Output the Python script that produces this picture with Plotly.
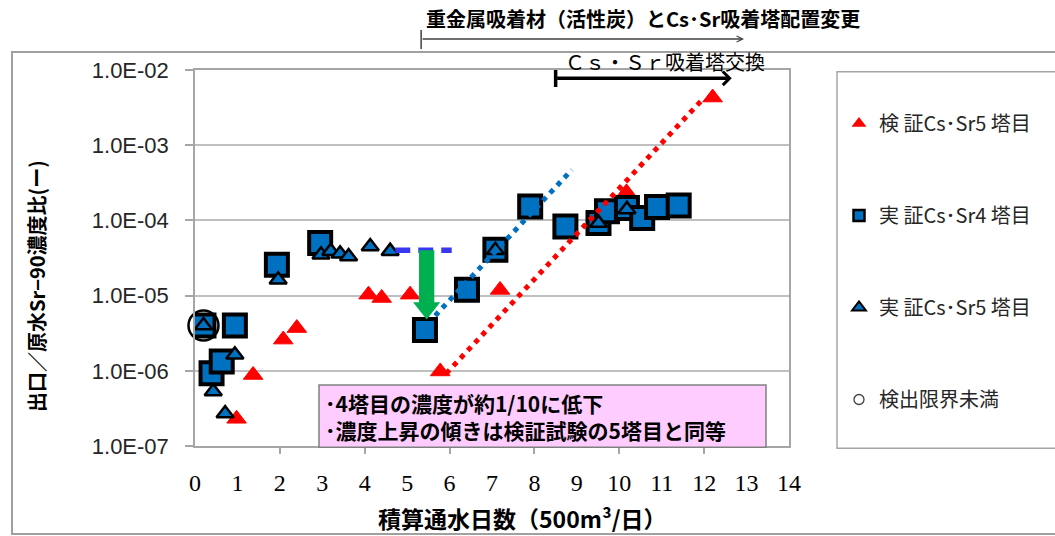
import math
import plotly.graph_objects as go

# ---------------- data ----------------
# 検証Cs・Sr 5塔目
days_ver5 = [0.98, 1.37, 2.08, 2.40, 4.09, 4.40, 5.07, 5.78, 7.19, 10.17, 12.2]
ratio_ver5 = [2.3e-7, 8.8e-7, 2.6e-6, 3.7e-6, 1.03e-5, 9.3e-6, 1.03e-5, 9.8e-7, 1.19e-5, 2.36e-4, 4.3e-3]

# 実証Cs・Sr 4塔目
days_dem4 = [0.20, 0.39, 0.63, 0.94, 1.93, 2.95, 5.42, 6.41, 7.08, 7.90, 8.73,
             9.51, 9.71, 10.18, 10.54, 10.89, 11.40]
ratio_dem4 = [4.0e-6, 9.3e-7, 1.33e-6, 4.0e-6, 2.57e-5, 5.0e-5, 3.5e-6, 1.2e-5, 4.07e-5, 1.53e-4, 8.3e-5,
              9.2e-5, 1.32e-4, 1.46e-4, 1.08e-4, 1.51e-4, 1.58e-4]

# 実証Cs・Sr 5塔目
days_dem5 = [0.20, 0.43, 0.71, 0.94, 1.96, 2.97, 3.20, 3.42, 3.62, 4.13, 4.60, 7.08, 9.51, 10.18]
ratio_dem5 = [4.0e-6, 5.3e-7, 2.7e-7, 1.63e-6, 1.62e-5, 3.5e-5, 3.9e-5, 3.6e-5, 3.3e-5, 4.5e-5, 3.9e-5,
              4.0e-5, 9.2e-5, 1.4e-4]

# 検出限界未満
days_nd = [0.20]
ratio_nd = [4.0e-6]

# trend of the rise after the change (4塔目) and of the verification test (5塔目)
trend_dem4_days = [5.66, 8.88]
trend_dem4_ratio = [5.4e-6, 4.7e-4]
trend_ver5_days = [5.92, 11.95]
trend_ver5_ratio = [9.2e-7, 4.0e-3]

# level before the change and the drop to about 1/10
before_days = [4.72, 6.05]
before_level = 4.0e-5
drop_day = 5.46
drop_to = 4.8e-6

# period markers above the plot (days)
period_change = [5.33, 12.94]
period_exchange = [8.50, 12.65]

x_ticks = list(range(0, 15))
y_ticks = [1e-7, 1e-6, 1e-5, 1e-4, 1e-3, 1e-2]
y_ticktext = ["1.0E-07", "1.0E-06", "1.0E-05", "1.0E-04", "1.0E-03", "1.0E-02"]

# ---------------- layout geometry ----------------
W, H = 1055, 536
M_L, M_R, M_T, M_B = 195, 266, 70, 90
PLOT_W = W - M_L - M_R
PLOT_H = H - M_T - M_B


def px(p):
    return (p - M_L) / PLOT_W


def py(p):
    return (H - M_B - p) / PLOT_H


JP = "Noto Sans CJK JP"
BLUE = "#0070C0"
RED = "#FF0000"

fig = go.Figure()

fig.add_trace(go.Scatter(
    x=days_ver5, y=ratio_ver5, mode="markers", showlegend=False,
    marker=dict(symbol="triangle-up", size=17, color=RED, line=dict(width=1, color=RED))))
fig.add_trace(go.Scatter(
    x=days_dem4, y=ratio_dem4, mode="markers", showlegend=False,
    marker=dict(symbol="square", size=22, color=BLUE, line=dict(width=4, color="black"))))
fig.add_trace(go.Scatter(
    x=days_dem5, y=ratio_dem5, mode="markers", showlegend=False,
    marker=dict(symbol="triangle-up", size=15, color=BLUE, line=dict(width=2.5, color="black"))))
fig.add_trace(go.Scatter(
    x=days_nd, y=ratio_nd, mode="markers", showlegend=False, cliponaxis=False,
    marker=dict(symbol="circle", size=30, color="rgba(0,0,0,0)", line=dict(width=2.5, color="black"))))

# dotted trend lines
fig.add_trace(go.Scatter(
    x=trend_dem4_days, y=trend_dem4_ratio, mode="lines", showlegend=False,
    line=dict(color=BLUE, width=5, dash="5px,5.5px")))
fig.add_trace(go.Scatter(
    x=trend_ver5_days, y=trend_ver5_ratio, mode="lines", showlegend=False,
    line=dict(color=RED, width=5, dash="5px,5.5px")))

# dashed level before the change
fig.add_trace(go.Scatter(
    x=before_days, y=[before_level, before_level], mode="lines", showlegend=False,
    line=dict(color="#3838F0", width=5.5, dash="15px,8px")))

# green downward arrow (filled polygon in data space)
shaft_half, head_half, head_len = 0.18, 0.32, 0.23
head_base = 10 ** (math.log10(drop_to) + head_len)
arrow_x = [drop_day - shaft_half, drop_day + shaft_half, drop_day + shaft_half, drop_day + head_half,
           drop_day, drop_day - head_half, drop_day - shaft_half, drop_day - shaft_half]
arrow_y = [before_level, before_level, head_base, head_base, drop_to, head_base, head_base, before_level]
fig.add_trace(go.Scatter(
    x=arrow_x, y=arrow_y, mode="lines", fill="toself", fillcolor="#00B050",
    line=dict(width=0, color="#00B050"), showlegend=False, hoverinfo="skip"))

# legend entries
legend_items = [
    ("検 証Cs･Sr5 塔目", dict(symbol="triangle-up", size=13, color=RED, line=dict(width=0))),
    ("実 証Cs･Sr4 塔目", dict(symbol="square", size=11, color=BLUE, line=dict(width=2.5, color="black"))),
    ("実 証Cs･Sr5 塔目", dict(symbol="triangle-up", size=12, color=BLUE, line=dict(width=2, color="black"))),
    ("検出限界未満", dict(symbol="circle", size=10, color="rgba(0,0,0,0)", line=dict(width=1.3, color="#404040"))),
]
for i, (name, mk) in enumerate(legend_items):
    fig.add_trace(go.Scatter(x=[None], y=[None], mode="markers", name=name,
                             legendgroup=f"g{i}", marker=mk))

shapes = [
    # outer chart frame
    dict(type="rect", xref="paper", yref="paper", x0=px(12), x1=px(1062), y0=py(534), y1=py(52),
         line=dict(color="#A0A0A0", width=2), layer="below"),
    # legend frame
    dict(type="rect", xref="paper", yref="paper", x0=px(837), x1=px(1062), y0=py(448.3), y1=py(71.7),
         line=dict(color="#A6A6A6", width=1.5), layer="below"),
    # start ticks of the two periods
    dict(type="line", xref="x", yref="paper", x0=period_change[0], x1=period_change[0],
         y0=py(49), y1=py(30), line=dict(color="#404040", width=1.5)),
    dict(type="line", xref="x", yref="paper", x0=period_exchange[0], x1=period_exchange[0],
         y0=py(87), y1=py(70), line=dict(color="black", width=3.5)),
    # note box
    dict(type="rect", xref="paper", yref="paper", x0=px(319), x1=px(766), y0=py(447.3), y1=py(385),
         fillcolor="#FFCCFF", line=dict(color="#808080", width=1.5), layer="above"),
]

annotations = [
    dict(x=period_change[1], y=py(39), xref="x", yref="paper", ax=period_change[0], ay=0,
         axref="x", ayref="pixel", text="", showarrow=True, arrowhead=5, arrowsize=0.8,
         arrowwidth=1.5, arrowcolor="#404040", standoff=0),
    dict(x=period_exchange[1], y=py(78.3), xref="x", yref="paper", ax=period_exchange[0], ay=0,
         axref="x", ayref="pixel", text="", showarrow=True, arrowhead=4, arrowsize=0.75,
         arrowwidth=3.5, arrowcolor="black", standoff=0),
    dict(x=px(424), y=py(18.3), xref="paper", yref="paper", xanchor="left", yanchor="middle",
         text="<b>重金属吸着材（活性炭）とCs･Sr吸着塔配置変更</b>", showarrow=False,
         font=dict(family=JP, size=20, color="black")),
    dict(x=px(563), y=py(61.7), xref="paper", yref="paper", xanchor="left", yanchor="middle",
         text="Ｃｓ・Ｓｒ吸着塔交換", showarrow=False,
         font=dict(family=JP, size=20, color="black")),
    dict(x=px(323), y=py(416.2), xref="paper", yref="paper", xanchor="left", yanchor="middle",
         align="left", showarrow=False,
         text="<b>･4塔目の濃度が約1/10に低下<br>･濃度上昇の傾きは検証試験の5塔目と同等</b>",
         font=dict(family=JP, size=21, color="black")),
    # axis titles
    dict(x=px(36), y=py(286), xref="paper", yref="paper", xanchor="center", yanchor="middle",
         textangle=-90, showarrow=False, text="<b>出口／原水Sr−90濃度比(ー)</b>",
         font=dict(family=JP, size=20, color="black")),
    dict(x=px(522), y=py(518), xref="paper", yref="paper", xanchor="center", yanchor="middle",
         showarrow=False, text="<b>積算通水日数（500m³/日）</b>",
         font=dict(family=JP, size=23, color="black")),
]

fig.update_layout(
    width=W, height=H,
    margin=dict(l=M_L, r=M_R, t=M_T, b=M_B),
    paper_bgcolor="white", plot_bgcolor="white",
    shapes=shapes, annotations=annotations,
    legend=dict(x=px(839), y=py(104), xanchor="left", yanchor="top",
                traceorder="grouped", tracegroupgap=63,
                font=dict(family=JP, size=20, color="#262626"),
                bgcolor="rgba(0,0,0,0)"),
    xaxis=dict(range=[0, 14], tickvals=x_ticks, ticktext=[str(v) for v in x_ticks],
               ticks="inside", ticklen=0, showgrid=False, zeroline=False,
               showline=True, linecolor="#A6A6A6", linewidth=1.5, mirror=True,
               tickfont=dict(family="Liberation Serif", size=24, color="black"),
               ticklabelstandoff=14,
               minor=dict(ticks="outside", dtick=2, tick0=0, ticklen=6, tickwidth=1.5,
                          tickcolor="#A6A6A6", showgrid=False)),
    yaxis=dict(type="log", range=[-7, -2], tickvals=y_ticks, ticktext=y_ticktext,
               ticks="outside", ticklen=8, tickwidth=1.5, tickcolor="#A6A6A6",
               showgrid=True, gridcolor="#BFBFBF", gridwidth=1.5,
               showline=True, linecolor="#A6A6A6", linewidth=1.5, mirror=True,
               tickfont=dict(family="Liberation Sans", size=22, color="#262626"),
               ticklabelstandoff=12),
)

fig.write_html("out.html")
